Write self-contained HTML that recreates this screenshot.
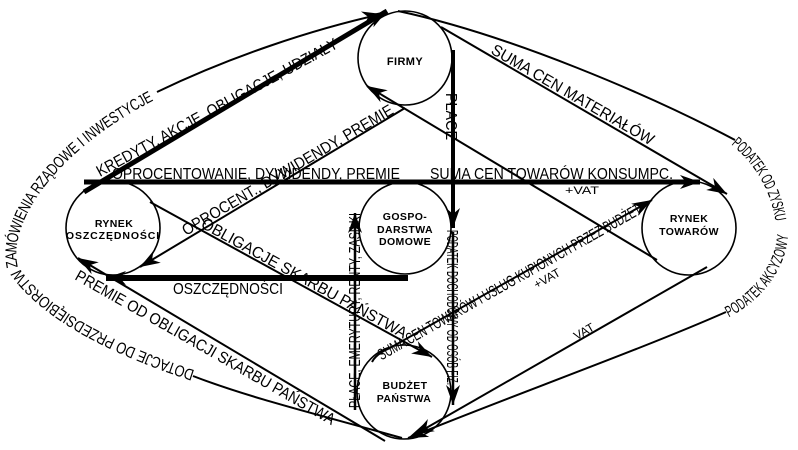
<!DOCTYPE html>
<html>
<head>
<meta charset="utf-8">
<style>
html,body{margin:0;padding:0;background:#fff;}
svg{display:block;}
text{font-family:"Liberation Sans",Arial,sans-serif;fill:#000;}
.n{font-weight:bold;font-size:10.5px;text-anchor:middle;letter-spacing:0.4px;}
.l{font-size:16px;}
</style>
</head>
<body>
<svg width="798" height="450" viewBox="0 0 798 450" xmlns="http://www.w3.org/2000/svg">
<defs>
<marker id="ah" markerUnits="userSpaceOnUse" markerWidth="22" markerHeight="16" refX="20" refY="8" orient="auto" overflow="visible">
<path d="M0,1 L20,8 L0,15 L6,8 Z" fill="#000"/>
</marker>
<path id="lowL" d="M 193 376 C 120 352, 45 318, 12 268"/>
<path id="upL" d="M 12 268 C 0 215, 60 140, 157 92"/>
<path id="upR" d="M 735 140 C 760 160, 778 190, 782 225"/>
<path id="lowR" d="M 726 312 C 760 295, 785 260, 782 225"/>
</defs>

<!-- circles -->
<g fill="none" stroke="#000" stroke-width="1.6">
<circle cx="405" cy="58" r="47"/>
<circle cx="113" cy="228" r="47"/>
<circle cx="405" cy="228" r="46"/>
<circle cx="689" cy="228" r="47"/>
<circle cx="404" cy="392" r="47"/>
</g>

<!-- connectors -->
<g fill="none" stroke="#000" stroke-width="2">
<path d="M 402 438 C 320 415, 250 398, 193 376"/>
<path d="M 157 92 C 230 57, 310 30, 382 14" marker-end="url(#ah)"/>
<path d="M 398 11 C 510 35, 650 95, 735 140"/>
<path d="M 726 312 C 640 350, 500 400, 408 438" marker-end="url(#ah)"/>
<line x1="84" y1="192" x2="387" y2="11" stroke-width="5" marker-end="url(#ah)"/>
<line x1="441" y1="27" x2="727" y2="194" marker-end="url(#ah)"/>
<line x1="657" y1="260" x2="367" y2="86" marker-end="url(#ah)"/>
<line x1="84" y1="182" x2="700" y2="182" stroke-width="5" marker-end="url(#ah)"/>
<line x1="405" y1="108" x2="140" y2="267" marker-end="url(#ah)"/>
<line x1="150" y1="202" x2="432" y2="357" marker-end="url(#ah)"/>
<line x1="385" y1="441" x2="78" y2="258" marker-end="url(#ah)"/>
<line x1="408" y1="278" x2="106" y2="278" stroke-width="6" marker-end="url(#ah)"/>
<line x1="453" y1="50" x2="453" y2="228" stroke-width="4" marker-end="url(#ah)"/>
<line x1="453" y1="232" x2="453" y2="405" stroke-width="2.5" marker-end="url(#ah)"/>
<line x1="355" y1="410" x2="355" y2="213" stroke-width="2.5" marker-end="url(#ah)"/>
<path d="M 372 362 Q 376 354 390 348 L 652 200" marker-end="url(#ah)"/>
<line x1="707" y1="267" x2="414" y2="435" marker-end="url(#ah)"/>
</g>

<!-- node labels -->
<text class="n" x="405" y="65" style="font-size:11px">FIRMY</text>
<text class="n" x="114" y="227">RYNEK</text>
<text class="n" x="113" y="239" style="letter-spacing:0.9px">OSZCZĘDNOŚCI</text>
<text class="n" x="405" y="220">GOSPO-</text>
<text class="n" x="405" y="233">DARSTWA</text>
<text class="n" x="405" y="245">DOMOWE</text>
<text class="n" x="689" y="222">RYNEK</text>
<text class="n" x="689" y="235">TOWARÓW</text>
<text class="n" x="405" y="389">BUDŻET</text>
<text class="n" x="404" y="402">PAŃSTWA</text>

<!-- straight labels -->
<text class="l" transform="translate(100,177) rotate(-28.5)" textLength="272" lengthAdjust="spacingAndGlyphs">KREDYTY, AKCJE, OBLIGACJE, UDZIAŁY</text>
<text class="l" x="112" y="179" textLength="288" lengthAdjust="spacingAndGlyphs">OPROCENTOWANIE, DYWIDENDY, PREMIE</text>
<text class="l" x="430" y="179" textLength="243" lengthAdjust="spacingAndGlyphs">SUMA CEN TOWARÓW KONSUMPC.</text>
<text x="565" y="194" font-size="11" textLength="34" lengthAdjust="spacingAndGlyphs">+VAT</text>
<text class="l" transform="translate(490,53) rotate(30)" textLength="185" lengthAdjust="spacingAndGlyphs">SUMA CEN MATERIAŁÓW</text>
<text class="l" transform="translate(186,236) rotate(-30.5)" textLength="242" lengthAdjust="spacingAndGlyphs">OPROCENT., DYWIDENDY, PREMIE</text>
<text class="l" transform="translate(200,227) rotate(28.8)" textLength="232" lengthAdjust="spacingAndGlyphs">OBLIGACJE SKARBU PAŃSTWA</text>
<text class="l" transform="translate(74,279) rotate(29.6)" textLength="296" lengthAdjust="spacingAndGlyphs">PREMIE OD OBLIGACJI SKARBU PAŃSTWA</text>
<text class="l" x="173" y="294" textLength="110" lengthAdjust="spacingAndGlyphs">OSZCZĘDNOŚCI</text>
<text class="l" transform="translate(446,93) rotate(90)" textLength="47" lengthAdjust="spacingAndGlyphs">PŁACE</text>
<text class="l" transform="translate(447,230) rotate(90)" textLength="155" lengthAdjust="spacingAndGlyphs">PODATEK DOCHODOWY OD OSÓB FIZ.</text>
<text class="l" transform="translate(360,408) rotate(-90)" textLength="195" lengthAdjust="spacingAndGlyphs">PŁACE, EMERYTURY, RENTY, ZASIŁKI</text>
<text class="l" transform="translate(381.5,360.5) rotate(-29.5)" textLength="300" lengthAdjust="spacingAndGlyphs">SUMA CEN TOWARÓW I USŁUG KUPIONYCH PRZEZ BUDŻET</text>
<text transform="translate(549,282) rotate(-29.5)" font-size="12" text-anchor="middle">+VAT</text>
<text transform="translate(586,335) rotate(-29.9)" font-size="12" text-anchor="middle">VAT</text>

<!-- curved labels -->
<text class="l" dy="6"><textPath href="#lowL" textLength="210" lengthAdjust="spacingAndGlyphs">DOTACJE DO PRZEDSIĘBIORSTW</textPath></text>
<text class="l" dy="6"><textPath href="#upL" textLength="235" lengthAdjust="spacingAndGlyphs">ZAMÓWIENIA RZĄDOWE I INWESTYCJE</textPath></text>
<text class="l" dy="6"><textPath href="#upR" textLength="95" lengthAdjust="spacingAndGlyphs">PODATEK OD ZYSKU</textPath></text>
<text class="l" dy="6"><textPath href="#lowR" textLength="100" lengthAdjust="spacingAndGlyphs">PODATEK AKCYZOWY</textPath></text>
</svg>
</body>
</html>
